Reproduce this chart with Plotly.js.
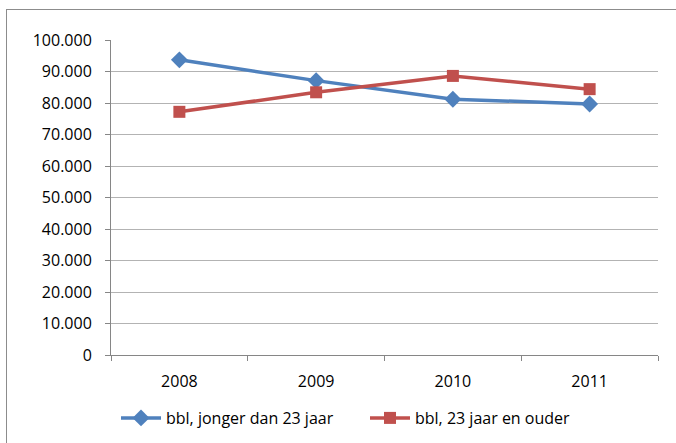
<!DOCTYPE html>
<html>
<head>
<meta charset="utf-8">
<script src="https://cdn.plot.ly/plotly-3.0.1.min.js"></script>
<style>
  body { margin: 0; width: 676px; height: 443px; overflow: hidden; background: #fff; position: relative; }
  #chart { width: 676px; height: 443px; }
  #frame { position: absolute; left: 6px; top: 9px; width: 720px; height: 500px; border: 1px solid #8c8c8c; pointer-events: none; }
</style>
</head>
<body>
<div id="chart"></div>
<div id="frame"></div>
<script>
let years = ['2008', '2009', '2010', '2011']
let jongerNames = 'bbl, jonger dan 23 jaar'
let ouderNames = 'bbl, 23 jaar en ouder'
let jonger = [93700, 87100, 81200, 79700]
let ouder = [77200, 83400, 88600, 84400]

let traceJ = {
    x: years,
    y: jonger,
    mode: 'lines+markers',
    type: 'scatter',
    name: jongerNames,
    line: { color: '#4F81BD', width: 3.5 },
    marker: { symbol: 'diamond', size: 13, color: '#4F81BD' }
}
let traceO = {
    x: years,
    y: ouder,
    mode: 'lines+markers',
    type: 'scatter',
    name: ouderNames,
    line: { color: '#C0504D', width: 3.5 },
    marker: { symbol: 'square', size: 12, color: '#C0504D' }
}

let layout = {
    width: 676,
    height: 443,
    margin: { l: 111, r: 18, t: 40, b: 88 },
    separators: ',.',
    font: { family: 'Open Sans, sans-serif', size: 16, color: '#000' },
    paper_bgcolor: '#fff',
    plot_bgcolor: '#fff',
    showlegend: true,
    legend: {
        orientation: 'h',
        xref: 'container', yref: 'container',
        x: 116 / 676, xanchor: 'left',
        y: 1 - 418 / 443, yanchor: 'middle',
        itemwidth: 40,
        entrywidth: 194,
        font: { size: 16 }
    },
    xaxis: {
        type: 'category',
        range: [-0.5, 3.5],
        tickson: 'boundaries',
        ticks: 'outside', ticklen: 5, tickcolor: '#868686',
        showline: true, linecolor: '#868686', linewidth: 1,
        showgrid: false, zeroline: false,
        ticklabelstandoff: 12
    },
    yaxis: {
        range: [0, 100000],
        dtick: 10000,
        tickformat: ',',
        ticks: 'outside', ticklen: 5, tickcolor: '#868686',
        showline: true, linecolor: '#868686', linewidth: 1,
        gridcolor: '#b3b3b3', gridwidth: 1,
        zeroline: false,
        ticklabelstandoff: 10
    }
}

Plotly.newPlot('chart', [traceJ, traceO], layout, { displayModeBar: false })
</script>
</body>
</html>
